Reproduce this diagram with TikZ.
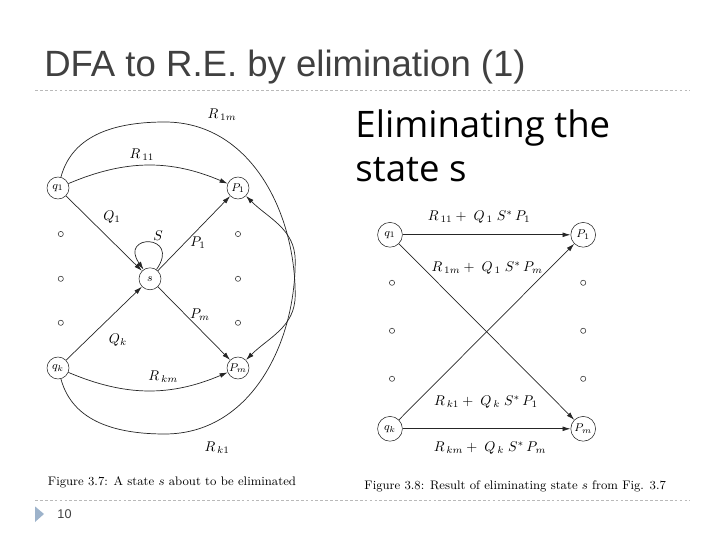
\documentclass[tikz,border=0pt]{standalone}
\usepackage{amsmath}
\usepackage{fontspec}
\usepackage{xcolor}
\usepackage{tikz}
\usetikzlibrary{arrows.meta,positioning}
\newfontfamily\titlefont{Liberation Sans}
\newfontfamily\notefont{Open Sans}
\definecolor{slidegray}{HTML}{404040}
\definecolor{bullblue}{HTML}{9DB3CB}

\begin{document}
\begin{tikzpicture}[font=\fontsize{9}{11}\selectfont,
  st/.style={circle, draw=black!85, minimum size=5.5mm, inner sep=0pt, font=\fontsize{8}{9}\selectfont},
  bst/.style={st, minimum size=6.2mm},
  dot/.style={circle, draw=black!80, minimum size=1.3mm, inner sep=0pt},
  ar/.style={draw=black!85, line width=0.5pt, -{Latex[length=2mm,width=1.2mm]}},
  lbl/.style={inner sep=1pt, font=\fontsize{10}{12}\selectfont},
  figcap/.style={inner sep=0pt, font=\fontsize{8.8}{10}\selectfont}]
  \useasboundingbox (0,0) rectangle (18,13.5);
  % slide frame: title, rules, page number
  \node[anchor=base west, inner sep=0pt, text=slidegray, font=\titlefont\fontsize{26}{30}\selectfont]
    (title) at (1.1,11.58) {DFA to R.E. by elimination (1)};
  \draw[gray!55, dash pattern=on 2pt off 1.5pt] (0.875,11.25) -- (17.25,11.25);
  \draw[gray!55, dash pattern=on 2pt off 1.5pt] (0.875,1.0) -- (17.25,1.0);
  \fill[bullblue] (0.875,0.84) -- (1.1,0.65) -- (0.875,0.45) -- cycle;
  \node[anchor=west, inner sep=0pt, text=slidegray, font=\titlefont\fontsize{9}{10}\selectfont]
    (pageno) at (1.43,0.65) {10};
  % base of a two-line node = baseline of its last line
  \node[anchor=base west, inner sep=0pt, align=left, font=\notefont\fontsize{26}{32}\selectfont]
    (note) at (8.88,8.95) {Eliminating the\\state s};

  % Fig 3.7: state s about to be eliminated
  \node[st] (q1) at (1.45,8.80) {$q_1$};
  \node[st] (P1) at (5.95,8.80) {$P_1$};
  \node[st] (s)  at (3.75,6.53) {$s$};
  \node[st] (qk) at (1.45,4.30) {$q_k$};
  \node[st] (Pm) at (5.95,4.30) {$P_m$};
  \foreach \y in {7.65,6.53,5.43} {
    \node[dot] at (1.52,\y) {};
    \node[dot] at (5.95,\y) {};
  }
  % waypoints of the two long arcs (mirror images about s)
  \coordinate (t1m) at (4.12,10.45);
  \coordinate (r1m) at (7.38,6.12);
  \coordinate (bk1) at (4.12,2.65);
  \coordinate (rk1) at (7.38,6.98);
  \draw[ar] (q1) to[bend left=23] (P1);
  \draw[ar] (qk) to[bend right=23] (Pm);
  \draw[ar] (q1) -- (s);
  \draw[ar] (qk) -- (s);
  \draw[ar] (s) -- (P1);
  \draw[ar] (s) -- (Pm);
  \draw[ar] (s.55) .. controls +(55:1.1cm) and +(125:1.1cm) .. (s.125);
  \draw[ar] (q1) to[out=75, in=180] (t1m) to[out=0, in=90] (r1m) to[out=-90, in=45] (Pm);
  \draw[ar] (qk) to[out=-75, in=180] (bk1) to[out=0, in=-90] (rk1) to[out=90, in=-45] (P1);
  \node[lbl] (lR1m) at (5.55,10.63) {$R_{\,1m}$};
  \node[lbl] (lR11) at (3.55,9.63) {$R_{\,11}$};
  \node[lbl] (lQ1)  at (2.80,8.08) {$Q_1$};
  \node[lbl] (lP1)  at (4.95,7.43) {$P_1$};
  \node[lbl] (lS)   at (3.95,7.62) {$S$};
  \node[lbl] (lQk)  at (2.95,5.00) {$Q_k$};
  \node[lbl] (lPm)  at (5.00,5.63) {$P_m$};
  \node[lbl] (lRkm) at (4.08,4.08) {$R_{\,km}$};
  \node[lbl] (lRk1) at (5.43,2.30) {$R_{\,k1}$};
  \node[figcap] (cap7) at (4.30,1.43) {Figure 3.7: A state $s$ about to be eliminated};

  % Fig 3.8: result after eliminating s
  \node[bst] (rq1) at (9.75,7.63) {$q_1$};
  \node[bst] (rP1) at (14.58,7.63) {$P_1$};
  \node[bst] (rqk) at (9.75,2.78) {$q_k$};
  \node[bst] (rPm) at (14.58,2.78) {$P_m$};
  \foreach \y in {6.43,5.23,4.03} {
    \node[dot] at (9.80,\y) {};
    \node[dot] at (14.58,\y) {};
  }
  \draw[ar] (rq1) -- (rP1);
  \draw[ar] (rq1) -- (rPm);
  \draw[ar] (rqk) -- (rP1);
  \draw[ar] (rqk) -- (rPm);
  \node[lbl] (l11) at (11.98,8.08) {$R_{\,11} + \; Q_{\,1}\; S^*\, P_1$};
  \node[lbl] (l1m) at (12.18,6.80) {$R_{\,1m} + \; Q_{\,1}\; S^*\, P_m$};
  \node[lbl] (lk1) at (12.15,3.45) {$R_{\,k1} + \; Q_{\,k}\; S^*\, P_1$};
  \node[lbl] (lkm) at (12.25,2.30) {$R_{\,km} + \; Q_{\,k}\; S^*\, P_m$};
  \node[figcap] (cap8) at (12.88,1.33) {Figure 3.8: Result of eliminating state $s$ from Fig. 3.7};
\end{tikzpicture}
\end{document}
